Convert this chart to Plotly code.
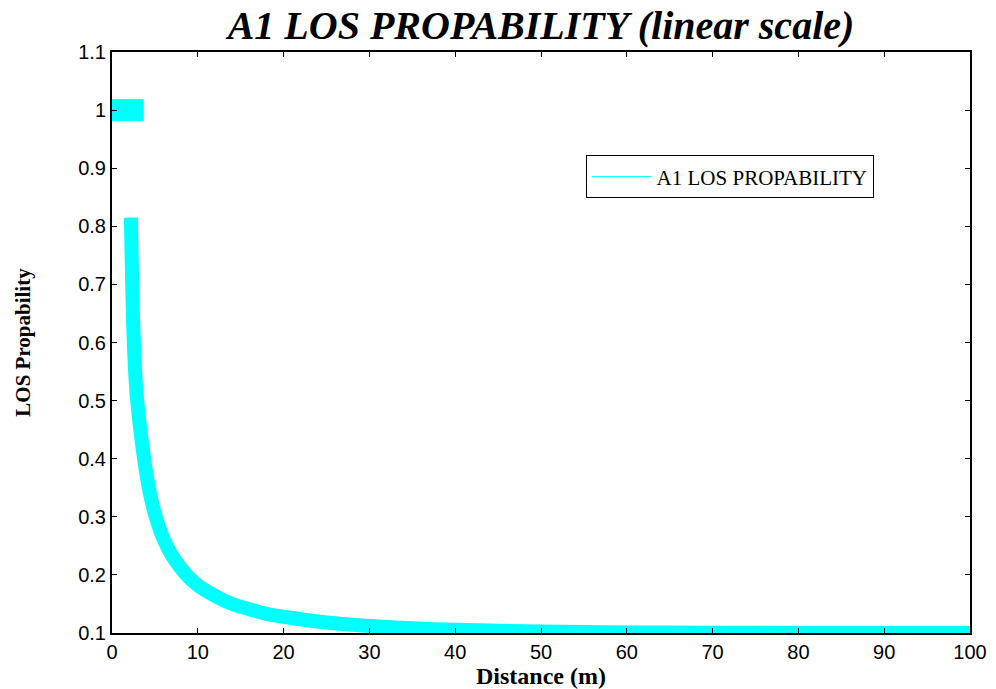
import plotly.graph_objects as go

# Data
flat_dist = [0.0, 3.7]
flat_prob = [1.0, 1.0]

curve_dist = [2.2, 2.3, 2.45, 2.6, 2.75, 3.0, 3.3, 3.6, 4.0, 4.5, 5, 6, 7, 8, 9, 10,
              12, 14, 16, 18, 20, 25, 30, 35, 40, 50, 60, 70, 80, 90, 100]
curve_prob = [0.815, 0.74, 0.64, 0.58, 0.535, 0.49, 0.45, 0.415, 0.375, 0.335, 0.305,
              0.262, 0.233, 0.212, 0.195, 0.182, 0.164, 0.150, 0.141, 0.133, 0.128,
              0.118, 0.112, 0.108, 0.1055, 0.1025, 0.101, 0.1005, 0.1002, 0.1, 0.1]

x_ticks = [0, 10, 20, 30, 40, 50, 60, 70, 80, 90, 100]
y_ticks = [0.1, 0.2, 0.3, 0.4, 0.5, 0.6, 0.7, 0.8, 0.9, 1.0, 1.1]
y_tick_labels = ["0.1", "0.2", "0.3", "0.4", "0.5", "0.6", "0.7", "0.8", "0.9", "1", "1.1"]

series_name = "A1 LOS PROPABILITY"
color = "#00FFFF"

fig = go.Figure()
fig.add_trace(go.Scatter(x=flat_dist, y=flat_prob, mode="lines",
                         line=dict(color=color, width=22), showlegend=False,
                         hoverinfo="skip"))
fig.add_trace(go.Scatter(x=curve_dist, y=curve_prob, mode="lines",
                         line=dict(color=color, width=14, shape="spline", smoothing=0.6),
                         showlegend=False))
# legend entry (thin line, as in the reference legend)
fig.add_trace(go.Scatter(x=[None], y=[None], mode="lines", name=series_name,
                         line=dict(color=color, width=1)))

tick_font = dict(family="Liberation Sans, Arial", size=20, color="black")
axis_common = dict(showgrid=False, zeroline=False, showline=True, linecolor="black",
                   linewidth=2, mirror="ticks", ticks="inside", ticklen=5,
                   tickwidth=1, tickcolor="black", tickfont=tick_font,
                   automargin=False)

W, H = 996, 689

fig.update_layout(
    width=W, height=H,
    paper_bgcolor="white", plot_bgcolor="white",
    margin=dict(l=112, r=26, t=52, b=56),
    title=dict(text="<b><i>A1 LOS PROPABILITY (linear scale)</i></b>",
               font=dict(family="Liberation Serif, Times New Roman", size=40, color="black"),
               x=0.5, xref="paper", xanchor="center",
               y=1 - 25 / H, yref="container", yanchor="middle"),
    xaxis=dict(range=[0, 100], tickvals=x_ticks, **axis_common,
               title=dict(text="<b>Distance (m)</b>", standoff=2,
                          font=dict(family="Liberation Serif, Times New Roman", size=24, color="black"))),
    yaxis=dict(range=[0.1, 1.1], tickvals=y_ticks, ticktext=y_tick_labels, **axis_common,
               title=dict(text="<b>LOS Propability</b>", standoff=42,
                          font=dict(family="Liberation Serif, Times New Roman", size=21, color="black"))),
    legend=dict(x=0.552, y=0.822, xanchor="left", yanchor="top",
                bgcolor="white", bordercolor="black", borderwidth=1,
                itemwidth=60,
                font=dict(family="Liberation Serif, Times New Roman", size=21, color="black")),
)

fig.write_html("out.html", config={"displayModeBar": False},
               post_script="document.body.style.margin='0';")
